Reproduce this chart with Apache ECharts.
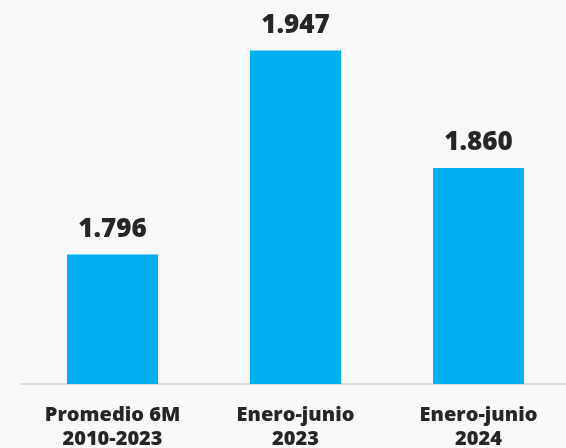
<!DOCTYPE html>
<html><head><meta charset="utf-8">
<style>html,body{margin:0;padding:0;background:#f9f9f9;}#c{width:566px;height:448px;}</style>
<script src="https://cdn.jsdelivr.net/npm/echarts@6/dist/echarts.min.js"></script>
</head><body><div id="c"></div>
<script>
const categories = ['Promedio 6M\n2010-2023', 'Enero-junio\n2023', 'Enero-junio\n2024'];
const values = [1.796, 1.947, 1.860];
const chart = echarts.init(document.getElementById('c'));
chart.setOption({
  backgroundColor: '#f9f9f9',
  animation: false,
  grid: { left: 21, width: 549, top: 6, height: 378, containLabel: false, outerBoundsMode: 'none' },
  xAxis: {
    type: 'category', data: categories,
    axisLine: { lineStyle: { color: '#dcdcdc', width: 2 } },
    axisTick: { show: false },
    axisLabel: { color: '#262626', fontFamily: 'Open Sans', fontWeight: 800, fontSize: 20, lineHeight: 24, margin: 19 }
  },
  yAxis: { type: 'value', min: 1.7, max: 1.98, show: false, splitLine: { show: false } },
  series: [{
    type: 'bar', data: values, barWidth: 91,
    itemStyle: { color: '#00b0f0' },
    label: {
      show: true, position: 'top', distance: 12, color: '#262626',
      fontFamily: 'Open Sans', fontWeight: 800, fontSize: 26,
      formatter: p => p.value.toFixed(3)
    }
  }]
});
</script></body></html>
